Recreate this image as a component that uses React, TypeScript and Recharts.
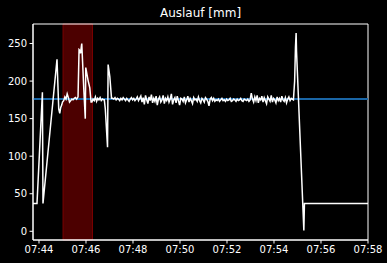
import React from 'react';
import {
  LineChart,
  Line,
  XAxis,
  YAxis,
  ReferenceArea,
  ReferenceLine,
} from 'recharts';

// Time is in seconds relative to 07:44:00.
// Irregular key points (ramps and spikes)
const startTimes = [-15.3, -5.1, 8.7, 10.2, 46, 50.4, 53, 55.5, 58];
const startValues = [37, 37, 185, 37, 229, 163, 157, 165, 168];

// regularly sampled stretch, every 3 s from 60 s
const noiseAStart = 60;
const noiseAValues = [172, 174, 179, 176, 183, 178, 172, 174, 176, 175, 177, 178, 176];

// first spike inside the red span
const spikeATimes = [99.7, 102.3, 104.1, 105.9, 109.2, 114.3, 118.2, 119.4, 125.3, 129.7, 133];
const spikeAValues = [179, 242, 241, 237, 250, 190, 150, 218, 201, 191, 172];

const noiseBStart = 135;
const noiseBValues = [172, 176, 174, 179, 173, 177, 175, 178, 174, 176, 175];

// dip and spike just after 07:46
const spikeBTimes = [166.8, 169.3, 175, 176.5, 180.8, 185.2];
const spikeBValues = [175, 163, 112, 222, 206, 177];

const noiseCStart = 188;
const noiseCValues = [
  177, 176, 178, 175, 177, 176, 174, 177, 175, 178, 176, 174, 177, 175, 173, 176, 178, 175, 177, 174,
  176, 179, 174, 177, 180, 172, 178, 169, 181, 175, 170, 179, 174, 182, 171, 177, 173, 180, 168, 176,
  179, 172, 175, 181, 170, 177, 174, 179, 172, 176, 183, 169, 175, 178, 171, 180, 174, 168, 177, 176,
  173, 179, 171, 175, 180, 172, 177, 174, 170, 178, 175, 176, 173, 179, 174, 171, 177, 175, 172, 178,
  176, 173, 167, 176, 178, 174, 177, 173, 175, 174, 176, 173, 175, 177, 174, 175, 173, 176, 174, 175,
  177, 173, 174, 176, 175, 173, 176, 174, 175, 177, 174, 173, 176, 175, 174, 176, 173, 175, 184, 176,
  172, 179, 174, 181, 171, 177, 175, 180, 172, 178, 174, 170, 179, 176, 173, 181, 172, 177, 175, 171,
  179, 174, 177, 172, 180, 175, 173, 178, 171, 176, 179, 174, 177,
];

// last spike, fall to zero, then flat
const endTimes = [649.6, 652.7, 654.8, 656.5, 657.5, 676.2, 677.7, 840];
const endValues = [175, 200, 245, 264, 240, 1, 37, 37];

const targetValue = 176;
const spanStart = 61.4;
const spanEnd = 136.6;

const xTicks = [0, 120, 240, 360, 480, 600, 720, 840];
const yTicks = [0, 50, 100, 150, 200, 250];
const xDomain = [-15.3, 840];
const yDomain = [-11.6, 276];

const sampled = (start: number, values: number[]) =>
  values.map((v, i) => ({ t: start + i * 3, v }));
const pairs = (times: number[], values: number[]) =>
  times.map((t, i) => ({ t, v: values[i] }));

const data = [
  ...pairs(startTimes, startValues),
  ...sampled(noiseAStart, noiseAValues),
  ...pairs(spikeATimes, spikeAValues),
  ...sampled(noiseBStart, noiseBValues),
  ...pairs(spikeBTimes, spikeBValues),
  ...sampled(noiseCStart, noiseCValues),
  ...pairs(endTimes, endValues),
];

const fmtTime = (s: number) => {
  const m = 44 + Math.round(s / 60);
  return `07:${String(m).padStart(2, '0')}`;
};

export default function App() {
  const tickStyle = { fill: '#ffffff', fontSize: 10 };
  return (
    <div
      style={{
        position: 'fixed',
        left: 0,
        top: 0,
        width: 387,
        height: 263,
        background: '#000',
        fontFamily: '"DejaVu Sans", sans-serif',
      }}
    >
      <div
        style={{
          position: 'absolute',
          top: 6,
          left: 33,
          width: 335,
          textAlign: 'center',
          color: '#fff',
          fontSize: 12,
          lineHeight: '14px',
        }}
      >
        Auslauf [mm]
      </div>
      <LineChart
        width={387}
        height={263}
        data={data}
        margin={{ top: 24, right: 19, bottom: 0, left: 0 }}
      >
        <XAxis
          dataKey="t"
          type="number"
          domain={xDomain}
          ticks={xTicks}
          tickFormatter={fmtTime}
          allowDataOverflow
          height={23}
          stroke="#ffffff"
          tick={tickStyle}
          tickSize={3.5}
          tickMargin={2.5}
        />
        <YAxis
          type="number"
          domain={yDomain}
          ticks={yTicks}
          allowDataOverflow
          width={33}
          stroke="#ffffff"
          tick={tickStyle}
          tickSize={3.5}
          tickMargin={2.5}
        />
        <ReferenceArea
          x1={spanStart}
          x2={spanEnd}
          fill="#4c0000"
          fillOpacity={1}
          stroke="#7a0000"
          strokeWidth={1}
        />
        <ReferenceLine y={targetValue} stroke="#1a66a6" strokeWidth={2} />
        <Line
          type="linear"
          dataKey="v"
          stroke="#ffffff"
          strokeWidth={1.5}
          dot={false}
          isAnimationActive={false}
        />
        <ReferenceArea
          x1={xDomain[0]}
          x2={xDomain[1]}
          y1={yDomain[0]}
          y2={yDomain[1]}
          fill="none"
          stroke="#ffffff"
          strokeWidth={1}
        />
      </LineChart>
    </div>
  );
}
